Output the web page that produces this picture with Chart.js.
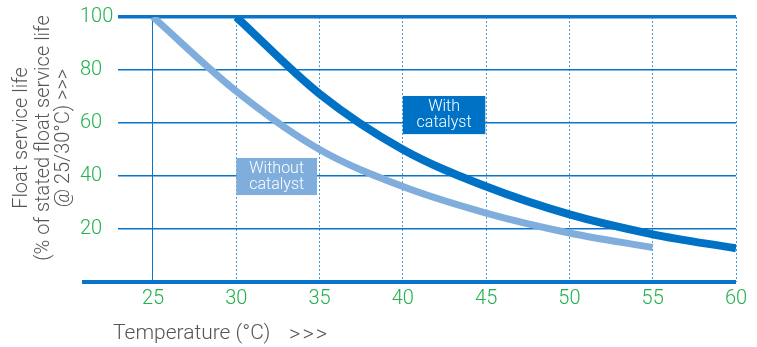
<!DOCTYPE html>
<html lang="en">
<head>
  <meta charset="UTF-8">
  <title>Float service life vs temperature</title>
  <script src="https://cdn.jsdelivr.net/npm/chart.js"></script>
  <style>
    body { margin: 0; background: #ffffff; }
    .chart-container { width: 757px; height: 347px; position: relative; }
  </style>
</head>
<body>
  <div class="chart-container"><canvas id="lifeChart"></canvas></div>

  <script>
    // temperatures (°C) and float service life (%)
    const withTemps = [30, 35, 40, 45, 50, 55, 60];
    const withLife = [100, 71, 50, 36, 25.5, 18, 12.7];
    const withoutTemps = [25, 30, 35, 40, 45, 50, 55];
    const withoutLife = [100, 72, 50, 36, 26, 18.5, 13];
    const xTicks = [25, 30, 35, 40, 45, 50, 55, 60];
    const yLabels = [20, 40, 60, 80, 100];

    const yTitle = ["Float service life", "(% of stated float service life", "@ 25/30°C) >>>"];
    const xTitle = "Temperature (°C)";

    const darkBlue = "#0072c6";
    const lightBlue = "#80aedc";
    const green = "#22b14c";
    const grey = "#555555";
    const family = "Roboto, 'Liberation Sans', Arial, sans-serif";

    const toPoints = (xs, ys) => xs.map((x, i) => ({ x, y: ys[i] }));

    const extras = {
      id: "extras",
      beforeDatasetsDraw(chart) {
        const { ctx, chartArea, scales } = chart;
        const y0 = scales.y.getPixelForValue(0);
        ctx.save();
        ctx.strokeStyle = "#0a74c8";
        ctx.lineWidth = 4;
        ctx.beginPath();
        ctx.moveTo(82, y0);
        ctx.lineTo(chartArea.right, y0);
        ctx.stroke();
        ctx.restore();
      },
      afterDatasetsDraw(chart) {
        const { ctx, scales } = chart;
        const x = scales.x, y = scales.y;
        const box = (x1, x2, y1, y2, fill, lines) => {
          const l = x.getPixelForValue(x1), r = x.getPixelForValue(x2);
          const t = y.getPixelForValue(y1), b = y.getPixelForValue(y2);
          ctx.fillStyle = fill;
          ctx.fillRect(l, t, r - l, b - t);
          ctx.fillStyle = "#ffffff";
          ctx.font = "300 16px " + family;
          ctx.textAlign = "center";
          ctx.textBaseline = "middle";
          const cx = (l + r) / 2, cy = (t + b) / 2;
          ctx.fillText(lines[0], cx, cy - 8);
          ctx.fillText(lines[1], cx, cy + 8);
        };
        ctx.save();
        box(40, 44.95, 70.2, 55.8, darkBlue, ["With", "catalyst"]);
        box(30, 34.85, 46.8, 32.8, lightBlue, ["Without", "catalyst"]);

        // axis titles
        ctx.fillStyle = grey;
        ctx.font = "300 21px " + family;
        ctx.textAlign = "left";
        ctx.textBaseline = "middle";
        ctx.fillText(xTitle, 113, 334);
        ctx.save();
        ctx.letterSpacing = "2px";
        ctx.font = "300 22px " + family;
        ctx.fillText(">>>", 289, 335);
        ctx.restore();

        ctx.font = "300 20px " + family;
        ctx.textAlign = "center";
        const xs = [22, 44, 64];
        yTitle.forEach((txt, i) => {
          ctx.save();
          ctx.translate(xs[i], 138);
          ctx.rotate(-Math.PI / 2);
          ctx.fillText(txt, 0, 0);
          ctx.restore();
        });
        ctx.restore();
      }
    };

    new Chart(document.getElementById("lifeChart"), {
      type: "line",
      data: {
        datasets: [
          {
            label: "With catalyst",
            data: toPoints(withTemps, withLife),
            borderColor: darkBlue,
            borderWidth: 8,
            pointRadius: 0,
            cubicInterpolationMode: "monotone",
            borderCapStyle: "butt"
          },
          {
            label: "Without catalyst",
            data: toPoints(withoutTemps, withoutLife),
            borderColor: lightBlue,
            borderWidth: 7,
            pointRadius: 0,
            cubicInterpolationMode: "monotone",
            borderCapStyle: "butt"
          }
        ]
      },
      options: {
        responsive: true,
        maintainAspectRatio: false,
        animation: false,
        layout: { padding: { left: 80, right: 21, top: 17, bottom: 0 } },
        plugins: { legend: { display: false }, tooltip: { enabled: false } },
        scales: {
          x: {
            type: "linear",
            min: 22.9,
            max: 60,
            afterBuildTicks: axis => { axis.ticks = xTicks.map(v => ({ value: v })); },
            afterFit: axis => { axis.height = 65; },
            ticks: {
              color: green,
              padding: 5,
              font: { family, size: 20, weight: 300 },
              callback: v => v
            },
            grid: {
              drawTicks: false,
              lineWidth: 1,
              color: ctx => ctx.tick && ctx.tick.value === 25 ? "#0a74c8" : "#4a9be0"
            },
            border: {
              display: false,
              dash: ctx => ctx.tick && ctx.tick.value === 25 ? [] : [2, 2]
            }
          },
          y: {
            min: 0,
            max: 100,
            afterFit: axis => { axis.width = 38; },
            ticks: {
              stepSize: 10,
              color: green,
              crossAlign: "far",
              padding: 0,
              font: { family, size: 20, weight: 300 },
              callback: v => yLabels.includes(v) ? v : ""
            },
            grid: {
              drawTicks: false,
              lineWidth: ctx => ctx.tick && ctx.tick.value === 100 ? 3.5 : (ctx.tick && ctx.tick.value === 0 ? 0 : 1.5),
              color: ctx => ctx.tick && ctx.tick.value % 20 === 0 ? "#0a74c8" : "#5aa2e2"
            },
            border: { display: false }
          }
        }
      },
      plugins: [extras]
    });
  </script>
</body>
</html>
